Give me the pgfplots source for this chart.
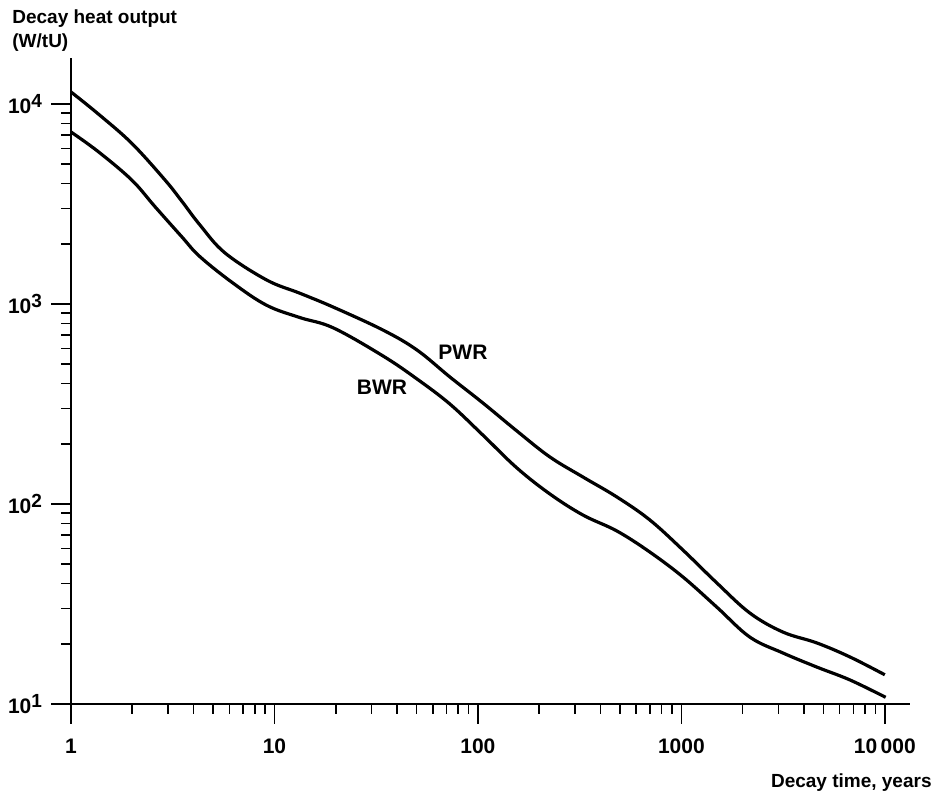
\documentclass[border=0pt]{standalone}
\usepackage{fontspec}
\setmainfont{Liberation Sans}
\usepackage{pgfplots}
\pgfplotsset{compat=1.18}

% values
\begin{document}
\begin{tikzpicture}
\path[use as bounding box] (-35.5pt,-47pt) rectangle (432pt,352pt);
\begin{axis}[
    at={(0,0)}, anchor=south west,
    scale only axis,
    width=419.5pt, height=323pt,
    xmode=log, ymode=log,
    xmin=1, xmax=13300,
    ymin=10, ymax=16980,
    axis x line=bottom, axis y line=left,
    axis line style={-, line width=0.9pt},
    tick align=outside,
    major tick length=10pt, minor tick length=5pt,
    every tick/.style={black, line width=0.8pt},
    xtick={1,10,100,1000,10000},
    xticklabels={1,10,100,1000,10\,000},
    ytick={10,100,1000,10000},
    yticklabels={10\raisebox{0.6ex}{\fontsize{9.5}{10}\selectfont 1},10\raisebox{0.6ex}{\fontsize{9.5}{10}\selectfont 2},10\raisebox{0.6ex}{\fontsize{9.5}{10}\selectfont 3},10\raisebox{0.6ex}{\fontsize{9.5}{10}\selectfont 4}},
    ticklabel style={font=\fontsize{10.5}{12}\selectfont\bfseries},
    xticklabel style={yshift=-4pt},
    yticklabel style={xshift=-1pt},
    xlabel={Decay time, years},
    ylabel={Decay heat output\\(W/tU)},
    xlabel style={at={(axis description cs:1,0)}, anchor=east, inner sep=0pt,
        xshift=11pt, yshift=-39.5pt, font=\fontsize{9.5}{11}\selectfont\bfseries},
    ylabel style={rotate=-90, at={(axis description cs:0,1)}, anchor=south west,
        inner sep=0pt, align=left, xshift=-29.5pt, yshift=3pt,
        font=\fontsize{9.5}{12}\selectfont\bfseries},
    clip=false,
]
% PWR
\addplot[black, line width=1.6pt, smooth, tension=0.6] coordinates {
(1,11482) (1.362,8913) (1.988,6362) (2.897,4169) (3.499,3273) (4.303,2483)
(5.712,1800) (9.157,1318) (13.35,1131) (19.45,965) (34.14,741)
(50.15,589) (72.85,431.5) (105.8,320) (155.5,231.7) (225.9,171.8) (328.1,136.5)
(482,108.4) (700.1,83.2) (1017,58.9) (1494,40.3) (2171,28.5) (3154,22.9)
(4633,20.2) (6730,17.2) (10000,14.0)};
% BWR
\addplot[black, line width=1.6pt, smooth, tension=0.6] coordinates {
(1,7244) (1.362,5775) (1.988,4169) (2.587,3066) (3.499,2171) (4.303,1724)
(6.275,1269) (9.157,985) (13.35,855) (19.45,760) (34.14,550)
(50.15,422) (72.85,316) (105.8,221) (155.5,151.4) (225.9,112.2) (328.1,88.1)
(482,73.3) (700.1,57.5) (1017,43.2) (1494,30.5) (2171,21.6) (3154,18.0)
(4633,15.3) (6730,13.2) (10100,10.8)};
\node[font=\fontsize{10.5}{12}\selectfont\bfseries] at (axis cs:84.4,575) {PWR};
\node[font=\fontsize{10.5}{12}\selectfont\bfseries] at (axis cs:33.8,385) {BWR};
\end{axis}
\end{tikzpicture}
\end{document}
